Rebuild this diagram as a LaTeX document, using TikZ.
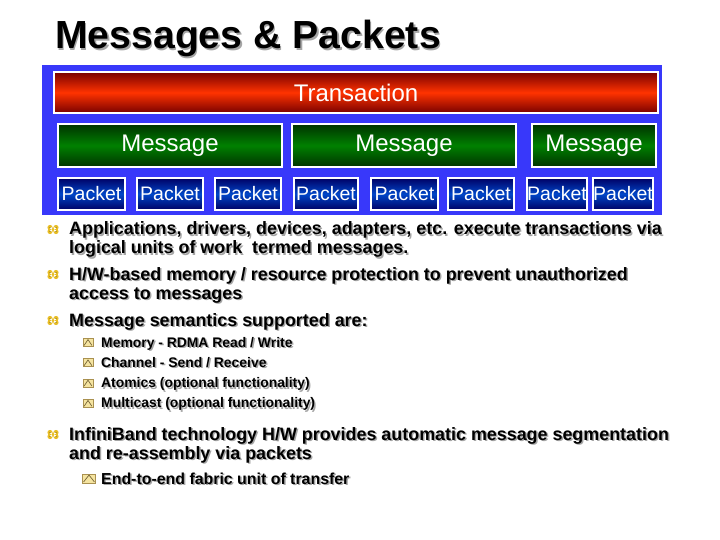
\documentclass[tikz,border=0pt]{standalone}
\usepackage{fontspec}
\setmainfont{Liberation Sans}
\definecolor{panelblue}{RGB}{56,56,250}
\definecolor{transdark}{RGB}{120,0,0}
\definecolor{transmid}{RGB}{255,51,0}
\definecolor{msgdark}{RGB}{0,50,0}
\definecolor{msgmid}{RGB}{0,128,0}
\definecolor{pktdark}{RGB}{0,0,100}
\definecolor{pktmid}{RGB}{0,70,200}
\definecolor{shade}{RGB}{165,165,165}
\definecolor{bulletgold}{RGB}{232,190,40}
\definecolor{iconfill}{RGB}{245,228,160}
\definecolor{iconline}{RGB}{170,145,80}
\newcommand{\shadowtext}[4]{%
  \node[#1,text=shade,xshift=1.5pt,yshift=-1.5pt] at (#3) {#4};
  \node[#1] (#2) at (#3) {#4};}
\begin{document}
\begin{tikzpicture}[x=1pt,y=-1pt]
\tikzstyle{every node}+=[inner sep=0pt]
\tikzstyle{bar}=[draw=white, line width=1.5pt, text=white]
\tikzstyle{trans}=[bar, top color=transdark, bottom color=transdark, middle color=transmid, minimum width=604pt, minimum height=41pt, font=\fontsize{24}{24}\selectfont]
\tikzstyle{msg}=[bar, top color=msgdark, bottom color=msgdark, middle color=msgmid, minimum height=43pt, font=\fontsize{24}{24}\selectfont]
\tikzstyle{pkt}=[bar, top color=pktdark, bottom color=pktdark, middle color=pktmid, minimum height=32pt, font=\fontsize{19.5}{20}\selectfont]
\tikzstyle{title}=[anchor=base west, font=\fontsize{39.2}{39}\bfseries]
\tikzstyle{body}=[anchor=base west, font=\fontsize{17.9}{20}\bfseries]
\tikzstyle{subbody}=[anchor=base west, font=\fontsize{13.9}{16}\bfseries]
\tikzstyle{subbodybig}=[anchor=base west, font=\fontsize{15.9}{18}\bfseries]
\tikzstyle{subicon}=[draw=iconline, fill=iconfill, line width=0.8pt, minimum width=10pt, minimum height=8pt]
\tikzstyle{caret}=[draw=iconline!70!black, line width=0.7pt]
\useasboundingbox (0,0) rectangle (720,540);
% title
\shadowtext{title}{title}{55,49}{Messages \& Packets}
% blue panel with the transaction, messages and packets
\fill[panelblue] (42,65) rectangle (662,215);
\node[trans] (trans) at (356,92.5) {Transaction};
\node[msg, minimum width=224pt] (msg1) at (170,145.5) {Message};
\node[msg, minimum width=224pt] (msg2) at (404,145.5) {Message};
\node[msg, minimum width=124pt] (msg3) at (594,145.5) {Message};
\node[pkt, minimum width=67pt] (pkt1) at (91.5,194) {Packet};
\node[pkt, minimum width=66pt] (pkt2) at (170,194) {Packet};
\node[pkt, minimum width=66pt] (pkt3) at (248,194) {Packet};
\node[pkt, minimum width=64pt] (pkt4) at (326,194) {Packet};
\node[pkt, minimum width=67pt] (pkt5) at (404.5,194) {Packet};
\node[pkt, minimum width=66pt] (pkt6) at (481,194) {Packet};
\node[pkt, minimum width=60pt] (pkt7) at (557,194) {Packet};
\node[pkt, minimum width=60pt] (pkt8) at (623,194) {Packet};
% main bullets
\foreach \y [count=\i] in {229.5,274.5,320.5,434.5}{
  \coordinate (bul\i) at (53,\y);
  \fill[bulletgold] (bul\i) +(-3,-2) circle (2.6) +(3,-2) circle (2.6) +(-3,2) circle (2.6) +(3,2) circle (2.6) +(-3,-2) rectangle +(3,2);
  \fill[bulletgold!60!black] (bul\i) +(-3,-2) circle (0.7) +(3,-2) circle (0.7) +(-3,2) circle (0.7) +(3,2) circle (0.7);
}
\shadowtext{body}{line1a}{69,235}{Applications, drivers, devices, adapters, etc. execute transactions via}
\shadowtext{body}{line1b}{69,254}{logical units of work\ \ termed messages.}
\shadowtext{body}{line2a}{69,280}{H/W-based memory / resource protection to prevent unauthorized}
\shadowtext{body}{line2b}{69,299}{access to messages}
\shadowtext{body}{line3}{69,326}{Message semantics supported are:}
\shadowtext{body}{line4a}{69,440}{InfiniBand technology H/W provides automatic message segmentation}
\shadowtext{body}{line4b}{69,459}{and re-assembly via packets}
% sub bullets
\foreach \t [count=\i] in {Memory - RDMA Read / Write, Channel - Send / Receive, Atomics (optional functionality), Multicast (optional functionality)}{
  \pgfmathsetmacro{\yy}{347+20.3*(\i-1)}
  \node[subicon] (ico\i) at (88,\yy-4.5) {};
  \draw[caret] ([xshift=1.5pt,yshift=1.5pt]ico\i.south west) -- ([yshift=-1.5pt]ico\i.north) -- ([xshift=-1.5pt,yshift=1.5pt]ico\i.south east);
  \shadowtext{subbody}{sub\i}{101,\yy}{\t}
}
\node[subicon, minimum width=13pt, minimum height=9pt] (ico5) at (89,478.5) {};
\draw[caret] ([xshift=1.5pt,yshift=1.5pt]ico5.south west) -- ([yshift=-1.5pt]ico5.north) -- ([xshift=-1.5pt,yshift=1.5pt]ico5.south east);
\shadowtext{subbodybig}{sub5}{101,484}{End-to-end fabric unit of transfer}
\end{tikzpicture}
\end{document}
